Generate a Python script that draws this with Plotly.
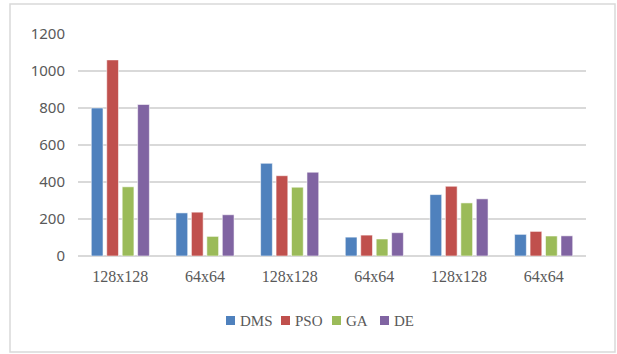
import plotly.graph_objects as go

# Image sizes for each group (labels repeat, so positions are numeric)
categories = ["128x128", "64x64", "128x128", "64x64", "128x128", "64x64"]
positions = list(range(len(categories)))

dms = [800, 233, 501, 102, 332, 117]
pso = [1060, 237, 434, 113, 377, 133]
ga = [374, 106, 372, 92, 287, 108]
de = [819, 223, 453, 126, 309, 109]

y_ticks = [0, 200, 400, 600, 800, 1000, 1200]

series = [
    ("DMS", dms, "#4F81BD"),
    ("PSO", pso, "#C0504D"),
    ("GA", ga, "#9BBB59"),
    ("DE", de, "#8064A2"),
]

# plot area in pixels
L, R, T, B = 78, 31, 34, 98
W, H = 617, 354
pw, ph = W - L - R, H - T - B


def px_x(x):
    return (x - L) / pw


def px_y(y):
    return (H - B - y) / ph


fig = go.Figure()
for name, vals, color in series:
    fig.add_trace(go.Bar(
        x=positions, y=vals, name=name,
        marker=dict(color=color, line=dict(color="rgba(255,255,255,0.55)", width=1)),
    ))

# legend: small square swatch followed by the series name
shapes = [dict(
    type="rect", xref="paper", yref="paper",
    x0=px_x(10), x1=px_x(615), y0=px_y(352), y1=px_y(4),
    line=dict(color="#D9D9D9", width=1.5), fillcolor="rgba(0,0,0,0)",
    layer="below",
)]
annotations = []
legend_left = [226, 281, 332, 380]
for (name, _, color), lx in zip(series, legend_left):
    shapes.append(dict(
        type="rect", xref="paper", yref="paper",
        x0=px_x(lx), x1=px_x(lx + 9), y0=px_y(325), y1=px_y(316),
        line=dict(width=0), fillcolor=color,
    ))
    annotations.append(dict(
        xref="paper", yref="paper", x=px_x(lx + 12), y=px_y(320.5),
        xanchor="left", yanchor="middle", showarrow=False, text=name,
        font=dict(family="Liberation Serif", size=15, color="#595959"),
    ))

fig.update_layout(
    width=W, height=H,
    margin=dict(l=L, r=R, t=T, b=B),
    paper_bgcolor="white", plot_bgcolor="white",
    barmode="group", bargap=0.27, bargroupgap=0.24,
    showlegend=False,
    xaxis=dict(
        tickmode="array", tickvals=positions, ticktext=categories,
        range=[-0.5, len(categories) - 0.5],
        showgrid=False, zeroline=False, showline=False, ticks="",
        ticklabelstandoff=9,
        tickfont=dict(family="Liberation Serif", size=16, color="#595959"),
        fixedrange=True,
    ),
    yaxis=dict(
        range=[0, 1200], tickvals=y_ticks,
        showgrid=True, gridcolor="#D9D9D9", gridwidth=1.5,
        zeroline=True, zerolinecolor="#D9D9D9", zerolinewidth=1.5,
        showline=False, ticks="", ticklen=0,
        ticklabelstandoff=12,
        tickfont=dict(family="Noto Sans", size=15, color="#595959"),
        fixedrange=True,
    ),
    shapes=shapes,
    annotations=annotations,
)

fig.write_html("out.html")
